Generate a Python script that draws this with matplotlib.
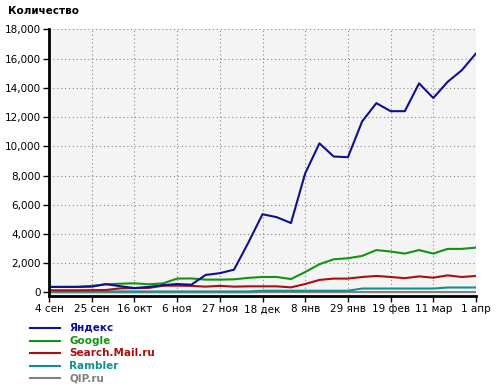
import matplotlib
matplotlib.use('Agg')
import matplotlib.pyplot as plt
from matplotlib.lines import Line2D
from matplotlib.ticker import FuncFormatter

# weekly points, 4 Sep .. 1 Apr
week_labels = ['4 сен', '25 сен', '16 окт', '6 ноя', '27 ноя', '18 дек',
               '8 янв', '29 янв', '19 фев', '11 мар', '1 апр']

yandex = [380, 380, 380, 400, 570, 430, 300, 380, 500, 580, 530, 1200, 1320,
          1560, 3400, 5350, 5150, 4750, 8150, 10200, 9300, 9250, 11700, 12950,
          12400, 12400, 14300, 13300, 14400, 15200, 16350]
google = [380, 380, 390, 450, 560, 600, 630, 560, 620, 950, 960, 880, 880,
          900, 1000, 1060, 1060, 920, 1400, 1930, 2270, 2340, 2500, 2900,
          2800, 2660, 2900, 2660, 2980, 2980, 3070]
mail = [150, 150, 150, 160, 170, 280, 300, 310, 460, 470, 450, 400, 450,
        400, 420, 420, 420, 350, 580, 860, 950, 950, 1060, 1130, 1060, 980,
        1100, 1010, 1170, 1060, 1130]
rambler = [70] * 15 + [120] * 7 + [270] * 6 + [340] * 3
qip = [10] * 15 + [30] * 16

names = ['Яндекс', 'Google', 'Search.Mail.ru', 'Rambler', 'QIP.ru']
colors = ['#10108f', '#129312', '#a81010', '#109090', '#808080']
series = [yandex, google, mail, rambler, qip]

fig = plt.figure(figsize=(5, 3.89), dpi=100)
ax = fig.add_axes([0.098, 0.2391, 0.854, 0.6856])
ax.set_facecolor('#f4f4f4')

x = list(range(len(yandex)))
for s, c in reversed(list(zip(series, colors))):
    ax.plot(x, s, color=c, lw=1.5, solid_joinstyle='round')

ax.set_xlim(0, 30)
ax.set_ylim(-240, 18000)
ax.set_yticks(range(0, 18001, 2000))
ax.yaxis.set_major_formatter(FuncFormatter(lambda v, p: f'{int(v):,}'))
ax.set_xticks(range(0, 31, 3))
ax.set_xticklabels(week_labels)

ax.grid(True, color='#888888', linestyle=(0, (1, 2.5)), lw=0.8)
for sp in ['top', 'right']:
    ax.spines[sp].set_visible(False)
for sp in ['left', 'bottom']:
    ax.spines[sp].set_linewidth(2)
ax.tick_params(axis='both', labelsize=7.5, length=4, width=1, pad=2)

fig.text(8 / 500, 1 - 11 / 389, 'Количество', fontsize=7.5, fontweight='bold',
         va='center', ha='left')

# legend below the chart
for i, (n, c) in enumerate(zip(names, colors)):
    yy = 1 - (328 + 12.6 * i) / 389
    fig.lines.append(Line2D([30 / 500, 60 / 500], [yy, yy], color=c, lw=1.5,
                            transform=fig.transFigure))
    fig.text(69 / 500, yy, n, color=c, fontsize=7.5, fontweight='bold',
             va='center', ha='left')

fig.savefig('out.png', dpi=100)
